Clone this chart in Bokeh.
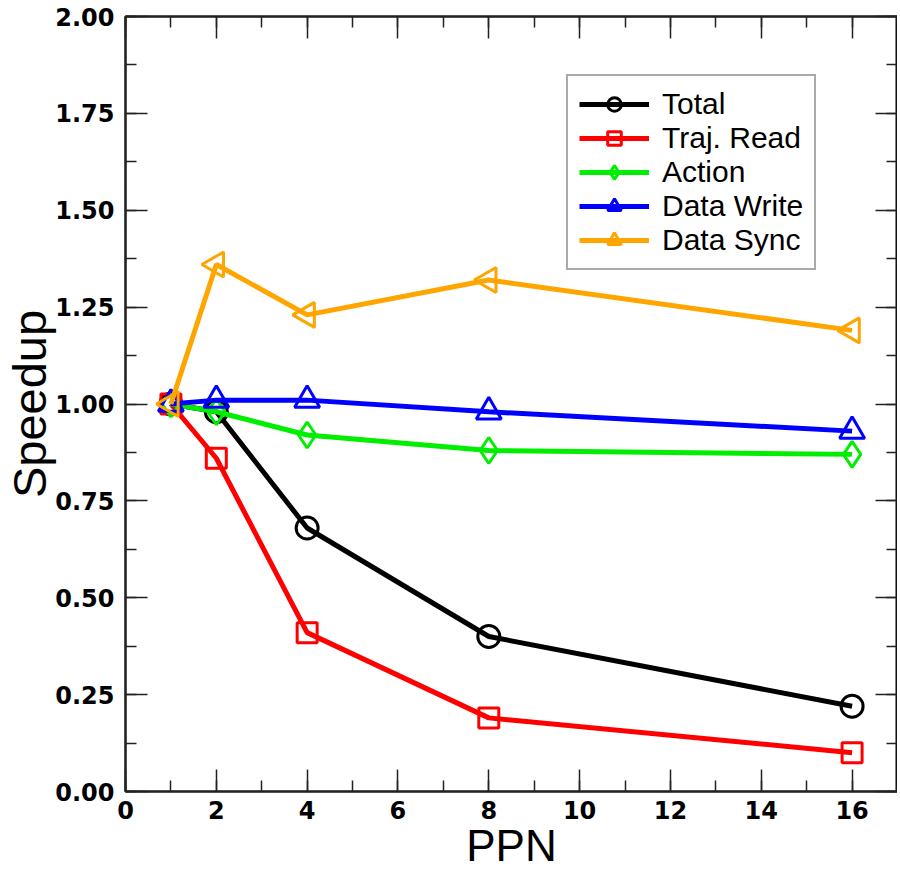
import math
from bokeh.plotting import figure
from bokeh.models import (LinearAxis, Legend, LegendItem, FixedTicker, Range1d,
                          ColumnDataSource, CustomJSTickFormatter)
from bokeh.embed import file_html
from bokeh.resources import INLINE

ppn = [1, 2, 4, 8, 16]
total = [1.00, 0.98, 0.68, 0.40, 0.22]
traj_read = [1.00, 0.86, 0.41, 0.19, 0.10]
action = [1.00, 0.98, 0.92, 0.88, 0.87]
data_write = [1.00, 1.01, 1.01, 0.98, 0.93]
data_sync = [1.00, 1.36, 1.23, 1.32, 1.19]

x_ticks = [0, 2, 4, 6, 8, 10, 12, 14, 16]
y_ticks = [0.0, 0.25, 0.5, 0.75, 1.0, 1.25, 1.5, 1.75, 2.0]
y_tick_labels = ["0.00", "0.25", "0.50", "0.75", "1.00", "1.25", "1.50", "1.75", "2.00"]

series = [
    ("Total", total, "#000000", "circle", 0.0, 22),
    ("Traj. Read", traj_read, "#ff0000", "square", 0.0, 20),
    ("Action", action, "#00ee00", "diamond", 0.0, 26),
    ("Data Write", data_write, "#0000ff", "triangle", 0.0, 25),
    ("Data Sync", data_sync, "#ffa500", "triangle", math.pi / 2, 25),
]

p = figure(frame_width=772, frame_height=775, output_backend="svg", toolbar_location=None,
           x_range=Range1d(0, 17), y_range=Range1d(0, 2),
           min_border_left=10, min_border_top=16, min_border_right=0, min_border_bottom=10)
p.xgrid.visible = False
p.ygrid.visible = False
p.outline_line_color = "#000000"
p.outline_line_width = 2
p.background_fill_color = "white"
p.border_fill_color = "white"

tick_font = "DejaVu Sans"

def style_axis(ax, labels=True):
    ax.major_tick_in = 22
    ax.major_tick_out = 0
    ax.minor_tick_in = 11
    ax.minor_tick_out = 0
    ax.major_tick_line_color = "#222222"
    ax.minor_tick_line_color = "#222222"
    ax.major_tick_line_width = 1.5
    ax.minor_tick_line_width = 1.5
    ax.axis_line_color = "#222222"
    ax.axis_line_width = 2
    ax.major_label_text_font = tick_font
    ax.major_label_text_font_style = "bold"
    ax.major_label_text_font_size = "24px"
    ax.major_label_text_color = "#000000"
    if not labels:
        ax.formatter = CustomJSTickFormatter(code="return ''")
        ax.major_label_text_font_size = "1px"
        ax.major_label_standoff = 0

xt = FixedTicker(ticks=x_ticks, minor_ticks=list(range(0, 18)))
yt = FixedTicker(ticks=y_ticks, minor_ticks=[i * 0.125 for i in range(17)])

p.xaxis.ticker = xt
p.yaxis.ticker = yt
p.yaxis.major_label_overrides = {v: s for v, s in zip(y_ticks, y_tick_labels)}
style_axis(p.xaxis[0])
style_axis(p.yaxis[0])
p.xaxis.major_label_standoff = 9
p.yaxis.major_label_standoff = 11
p.xaxis.axis_label = "PPN"
p.yaxis.axis_label = "Speedup"
for ax in (p.xaxis[0], p.yaxis[0]):
    ax.axis_label_text_font = "Liberation Sans"
    ax.axis_label_text_font_style = "normal"
    ax.axis_label_text_color = "#000000"
p.xaxis.axis_label_text_font_size = "44px"
p.yaxis.axis_label_text_font_size = "47px"
p.xaxis.axis_label_standoff = -1
p.yaxis.axis_label_standoff = -4

top_ax = LinearAxis(ticker=xt)
style_axis(top_ax, labels=False)
p.add_layout(top_ax, "above")
right_ax = LinearAxis(ticker=yt)
style_axis(right_ax, labels=False)
p.add_layout(right_ax, "right")

items = []
for name, vals, color, marker, ang, size in series:
    src = ColumnDataSource(dict(x=ppn, y=vals))
    ln = p.line("x", "y", source=src, line_color=color, line_width=5)
    sc = p.scatter("x", "y", source=src, marker=marker, angle=ang, size=size,
                   line_color=color, line_width=3, fill_color=None)
    items.append(LegendItem(label=name, renderers=[ln, sc]))

legend = Legend(items=items, location=(441, 521))
legend.label_text_font = "Liberation Sans"
legend.label_text_font_size = "30px"
legend.label_text_color = "#000000"
legend.border_line_color = "#555555"
legend.border_line_width = 2
legend.background_fill_color = "white"
legend.background_fill_alpha = 1.0
legend.glyph_width = 70
legend.glyph_height = 34
legend.label_height = 34
legend.label_standoff = 13
legend.spacing = 0
legend.padding = 11
legend.margin = 0
p.add_layout(legend)

open("out.html", "w").write(file_html(p, INLINE))
